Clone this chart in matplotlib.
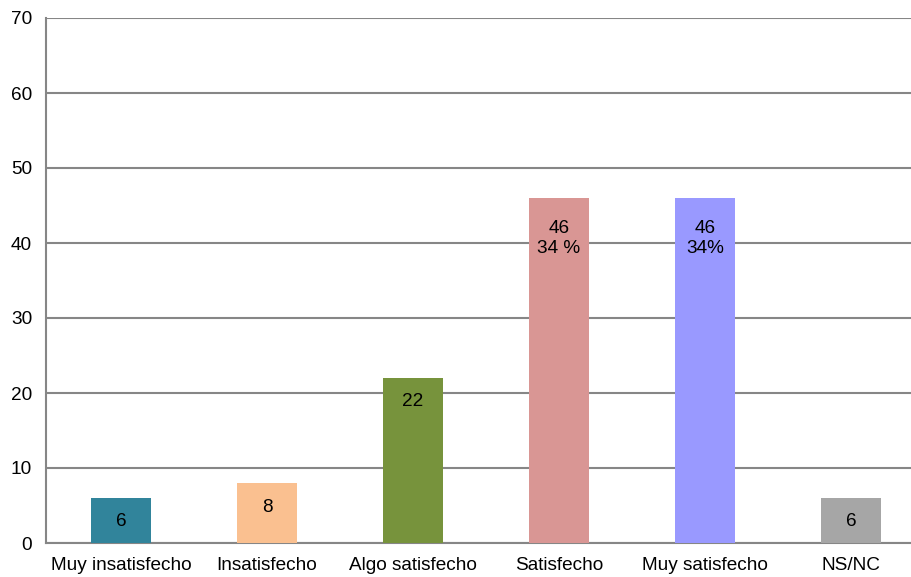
import matplotlib
matplotlib.use("Agg")
import matplotlib.pyplot as plt

categories = ["Muy insatisfecho", "Insatisfecho", "Algo satisfecho", "Satisfecho", "Muy satisfecho", "NS/NC"]
values = [6, 8, 22, 46, 46, 6]
labels = ["6", "8", "22", "46\n34 %", "46\n34%", "6"]
colors = ["#31849B", "#FAC090", "#77933C", "#D99694", "#9999FF", "#A6A6A6"]
yticks = [0, 10, 20, 30, 40, 50, 60, 70]

plt.rcParams['font.family'] = ['Liberation Sans', 'DejaVu Sans']

fig = plt.figure(figsize=(9.12, 5.77), dpi=100)
xmin, xmax = -0.514, 5.5
ax = fig.add_axes([46/912, (577-543)/577, 146*(xmax - xmin)/912, 525/577])

x = list(range(len(categories)))
ax.bar(x, values, width=0.41, color=colors, zorder=3)

ax.set_xlim(xmin, xmax)
ax.set_ylim(0, 70)
ax.set_yticks(yticks)
ax.set_xticks(x)
ax.set_xticklabels(categories)
ax.yaxis.grid(True, color="#868686", linewidth=1.5, zorder=0)
ax.set_axisbelow(True)

for s in ["top", "right"]:
    ax.spines[s].set_visible(False)
ax.spines["left"].set_color("#868686")
ax.spines["left"].set_linewidth(1.5)
ax.spines["bottom"].set_color("#868686")
ax.spines["bottom"].set_linewidth(1.5)
ax.tick_params(axis="both", length=0, labelsize=13.7, colors="black")
ax.tick_params(axis="y", pad=10)
ax.tick_params(axis="x", pad=10)

for xi, v, lab in zip(x, values, labels):
    if "\n" in lab:
        ax.text(xi, v - 5.4, lab, ha="center", va="center", fontsize=13.7, linespacing=1.2, zorder=4)
    else:
        ax.text(xi, v - 3.2, lab, ha="center", va="center", fontsize=13.7, zorder=4)

fig.savefig("out.png", dpi=100)
